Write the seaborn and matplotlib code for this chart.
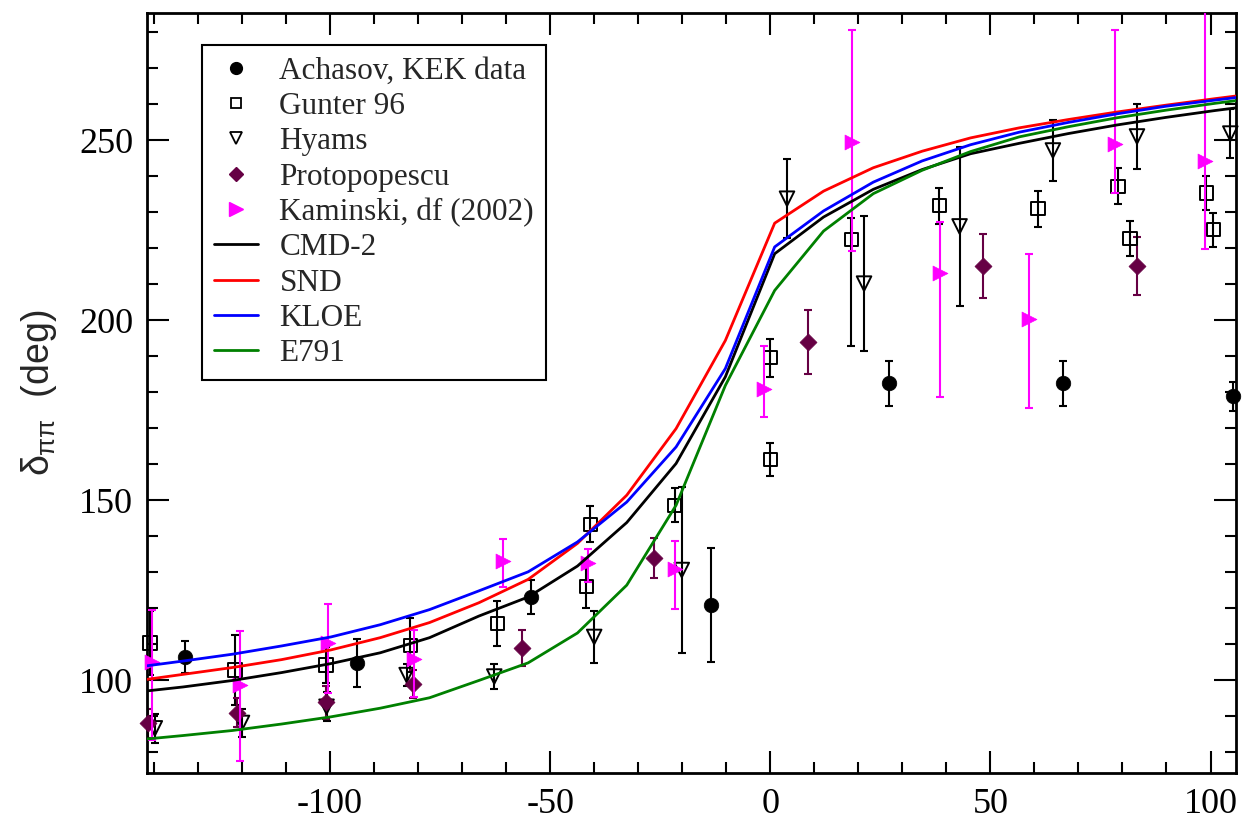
import numpy as np
import pandas as pd
import matplotlib
matplotlib.use("Agg")
import matplotlib.pyplot as plt
from matplotlib.lines import Line2D
from matplotlib.ticker import MultipleLocator
import seaborn as sns

# ---------------- data ----------------
ach_x = [-133.0, -93.9, -54.3, -13.4, 27.0, 66.4, 105.2]
ach_y = [106.4, 104.7, 123.0, 120.8, 182.5, 182.5, 178.9]
ach_e = [4.4, 6.6, 4.7, 15.8, 6.2, 6.2, 4.0]

gun_x = [-140.9, -121.6, -100.9, -81.8, -62.0, -41.8, -40.9, -21.7, 0.0, 0.0,
         18.4, 38.4, 60.8, 79.0, 81.7, 99.0, 100.6]
gun_y = [110.3, 102.8, 104.2, 109.7, 115.8, 126.1, 143.3, 148.6, 189.6, 161.4,
         222.4, 231.9, 231.0, 237.2, 222.7, 235.4, 225.2]
gun_lo = [9.0, 9.7, 5.0, 7.5, 6.3, 6.0, 5.0, 4.7, 5.3, 4.6,
          29.6, 5.0, 5.0, 5.0, 4.8, 4.7, 4.7]
gun_hi = [9.0, 9.7, 5.0, 7.5, 6.3, 6.0, 5.0, 4.7, 5.3, 4.6,
          6.1, 5.0, 5.0, 5.0, 4.8, 4.7, 4.7]

hy_x = [-139.8, -120.0, -100.8, -82.6, -62.7, -40.0, -20.1, 3.8, 21.3, 43.0, 64.2, 83.3, 104.5]
hy_y = [86.6, 88.1, 92.6, 101.4, 101.0, 112.0, 130.6, 233.8, 210.2, 226.1, 247.2, 251.1, 251.9]
hy_e = [4.0, 4.0, 4.0, 3.0, 3.6, 7.2, 23.1, 10.9, 18.7, 22.0, 8.4, 9.0, 6.9]

pr_x = [-141.3, -121.2, -101.0, -81.2, -56.3, -26.4, 8.6, 48.4, 83.3]
pr_y = [88.0, 90.9, 93.8, 98.9, 108.9, 134.0, 194.0, 215.1, 215.1]
pr_e = [4.0, 4.0, 4.5, 4.0, 5.0, 5.5, 9.0, 9.0, 8.0]

ka_x = [-140.5, -120.5, -100.4, -81.0, -60.6, -41.3, -21.6, -1.4, 18.6, 38.6, 58.7, 78.4, 98.7]
ka_y = [105.1, 98.6, 110.2, 105.8, 133.0, 132.6, 131.0, 181.0, 249.5, 213.1, 200.3, 248.9, 244.3]
ka_lo = [21.7, 21.0, 13.9, 10.6, 7.1, 5.4, 11.3, 7.9, 30.1, 34.4, 24.6, 13.5, 24.6]
ka_hi = [14.4, 15.1, 10.9, 8.0, 6.2, 3.8, 7.7, 11.9, 31.1, 14.2, 18.0, 31.7, 45.0]

curve_x = [-144.6, -133.4, -122.2, -111.0, -99.8, -88.6, -77.4, -66.2, -55.0, -43.8,
           -32.6, -21.4, -10.2, 1.0, 12.1, 23.4, 34.5, 45.5, 56.6, 67.7, 78.8,
           89.9, 101.0, 112.0]
cmd2_y = [96.6, 98.1, 99.9, 102.1, 104.6, 107.6, 111.8, 117.8, 123.1, 131.7, 143.8,
          160.2, 184.3, 218.5, 228.7, 236.4, 241.9, 246.3, 249.2, 251.9, 254.3, 256.4,
          258.3, 260.0]
snd_y = [99.7, 101.6, 103.5, 105.7, 108.4, 111.8, 116.0, 121.5, 128.0, 138.0, 151.4,
         169.9, 194.4, 227.0, 235.9, 242.4, 247.0, 250.7, 253.5, 255.8, 257.9, 259.8,
         261.6, 263.3]
kloe_y = [103.5, 105.3, 107.2, 109.5, 112.0, 115.4, 119.6, 124.8, 130.1, 138.4, 149.5,
          164.8, 186.6, 220.4, 230.4, 238.4, 244.3, 248.8, 252.3, 255.0, 257.4, 259.5,
          261.2, 262.8]
e791_y = [83.3, 84.6, 86.0, 87.8, 89.8, 92.2, 95.1, 99.9, 104.8, 113.1, 126.4, 148.6,
          181.9, 208.3, 224.8, 235.2, 241.7, 246.9, 251.0, 253.8, 256.3, 258.4, 260.3,
          262.0]

legend_labels = ["Achasov, KEK data", "Gunter 96", "Hyams", "Protopopescu",
                 "Kaminski, df (2002)", "CMD-2", "SND", "KLOE", "E791"]

# ---------------- style ----------------
sns.set_theme(style="ticks")
plt.rcParams["font.family"] = ["Liberation Serif", "DejaVu Serif"]
plt.rcParams["axes.unicode_minus"] = False
plt.rcParams["mathtext.fontset"] = "custom"
plt.rcParams["mathtext.rm"] = "Liberation Sans"
plt.rcParams["mathtext.it"] = "Liberation Sans"
plt.rcParams["mathtext.bf"] = "Liberation Sans:bold"

PURPLE = "#660044"
MAGENTA = "#ff00ff"

fig = plt.figure(figsize=(12.45, 8.23), dpi=100)
ax = fig.add_axes([0.118, 0.0608, 0.8748, 0.9238])

eb_kw = dict(fmt="none", elinewidth=1.5, capsize=2.8, capthick=1.5)

# Achasov
ax.errorbar(ach_x, ach_y, yerr=ach_e, ecolor="black", zorder=2, **eb_kw)
sns.scatterplot(x=ach_x, y=ach_y, marker="o", s=110, color="black",
                edgecolor="black", linewidth=0.5, ax=ax, zorder=3, clip_on=False)
# Gunter 96
ax.errorbar(gun_x, gun_y, yerr=[gun_lo, gun_hi], ecolor="black", zorder=2, **eb_kw)
sns.scatterplot(x=gun_x, y=gun_y, marker="s", s=90, facecolor="none",
                edgecolor="black", linewidth=1.4, ax=ax, zorder=3, clip_on=False)
# Hyams
ax.errorbar(hy_x, hy_y, yerr=hy_e, ecolor="black", zorder=2, **eb_kw)
sns.scatterplot(x=hy_x, y=hy_y, marker="v", s=110, facecolor="none",
                edgecolor="black", linewidth=1.4, ax=ax, zorder=3, clip_on=False)
# Protopopescu
ax.errorbar(pr_x, pr_y, yerr=pr_e, ecolor=PURPLE, zorder=2, **eb_kw)
sns.scatterplot(x=pr_x, y=pr_y, marker="D", s=75, color=PURPLE,
                edgecolor=PURPLE, linewidth=0.5, ax=ax, zorder=3, clip_on=False)
# Kaminski
ax.errorbar(ka_x, ka_y, yerr=[ka_lo, ka_hi], ecolor=MAGENTA, zorder=4, **eb_kw)
sns.scatterplot(x=ka_x, y=ka_y, marker=">", s=115, color=MAGENTA,
                edgecolor=MAGENTA, linewidth=0.5, ax=ax, zorder=4, clip_on=False)

# curves
curves = pd.DataFrame({"x": curve_x, "CMD-2": cmd2_y, "SND": snd_y,
                       "KLOE": kloe_y, "E791": e791_y})
for name, col in [("CMD-2", "black"), ("SND", "red"), ("KLOE", "blue"), ("E791", "#008000")]:
    sns.lineplot(data=curves, x="x", y=name, color=col, lw=2.0, ax=ax,
                 sort=False, estimator=None, zorder=5)

ax.set_xlim(-141.6, 105.8)
ax.set_ylim(74.2, 285.5)
ax.xaxis.set_major_locator(MultipleLocator(50))
ax.xaxis.set_minor_locator(MultipleLocator(10))
ax.yaxis.set_major_locator(MultipleLocator(50))
ax.yaxis.set_minor_locator(MultipleLocator(10))
ax.tick_params(which="both", direction="in", top=True, right=True, width=1.5,
               colors="black")
ax.tick_params(which="major", length=15.5, labelsize=26, pad=10)
ax.tick_params(which="minor", length=8)
ax.tick_params(axis="x", which="major", pad=11)
for sp in ax.spines.values():
    sp.set_linewidth(2.0)
    sp.set_color("black")
ax.set_xlabel("")
ax.set_ylabel(r"$\delta_{\pi\pi}$  (deg)", fontsize=27, family="Liberation Sans",
              labelpad=14)

handles = [
    Line2D([], [], ls="none", marker="o", ms=8.5, color="black"),
    Line2D([], [], ls="none", marker="s", ms=7.5, mfc="none", mec="black", mew=1.3),
    Line2D([], [], ls="none", marker="v", ms=8.5, mfc="none", mec="black", mew=1.3),
    Line2D([], [], ls="none", marker="D", ms=7, color=PURPLE),
    Line2D([], [], ls="none", marker=">", ms=9.5, color=MAGENTA),
    Line2D([], [], color="black", lw=2),
    Line2D([], [], color="red", lw=2),
    Line2D([], [], color="blue", lw=2),
    Line2D([], [], color="#008000", lw=2),
]
leg = ax.legend(handles, legend_labels, loc="upper left",
                bbox_to_anchor=(0.0505, 0.9575), borderaxespad=0,
                fontsize=22.5, frameon=True, fancybox=False, shadow=False,
                edgecolor="black", framealpha=1, labelspacing=0.2,
                handlelength=1.4, handletextpad=0.7, borderpad=0.38)
leg.get_frame().set_linewidth(1.5)
leg.set_zorder(10)

fig.savefig("out.png", dpi=100)
